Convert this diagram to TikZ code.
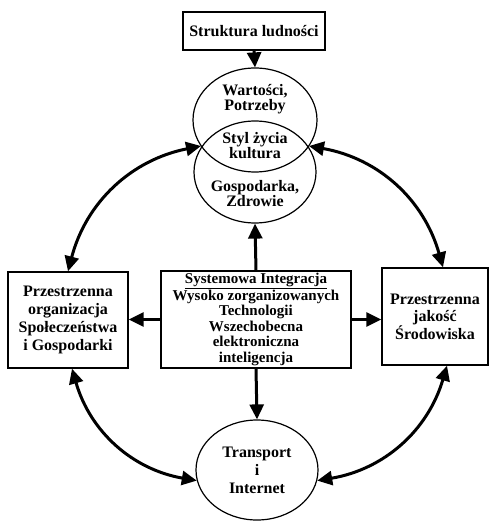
\documentclass[tikz,border=0pt]{standalone}
\usepackage{fontspec}
\setmainfont{Liberation Serif}
\usetikzlibrary{arrows.meta,shapes.geometric}
\begin{document}
\begin{tikzpicture}[x=1pt,y=-1pt,
  box/.style={draw,line width=1.4pt,align=center,font=\bfseries\fontsize{16}{17}\selectfont,inner sep=0pt},
  ell/.style={draw,ellipse,line width=1.2pt,inner sep=0pt},
  lbl/.style={align=center,font=\bfseries\fontsize{16}{15}\selectfont,inner sep=0pt},
  arr/.style={line width=3pt,-{Triangle[length=15pt,width=14pt]}},
  darr/.style={line width=3pt,{Triangle[length=15pt,width=14pt]}-{Triangle[length=15pt,width=14pt]}}]
\useasboundingbox (0,0) rectangle (493,521);
\node[box,minimum width=142pt,minimum height=38pt] (top) at (254,31) {Struktura ludności};
\node[ell,minimum width=124pt,minimum height=104pt] (up) at (255,120) {};
\node[ell,minimum width=122pt,minimum height=102pt] (lo) at (255,172) {};
\node[lbl] (t1) at (255,99) {Wartości,\\Potrzeby};
\node[lbl] (t2) at (255,146) {Styl życia\\kultura};
\node[lbl] (t3) at (255,194) {Gospodarka,\\Zdrowie};
\node[box,minimum width=190pt,minimum height=97pt,font=\bfseries\fontsize{15}{15.5}\selectfont] (cb) at (256,319.5)
  {\underline{Systemowa Integracja}\\Wysoko zorganizowanych\\Technologii\\Wszechobecna\\elektroniczna\\inteligencja};
\node[box,minimum width=120pt,minimum height=96pt,font=\bfseries\fontsize{16}{18}\selectfont] (lb) at (68,320)
  {Przestrzenna\\organizacja\\Społeczeństwa\\i Gospodarki};
\node[box,minimum width=106pt,minimum height=97pt,font=\bfseries\fontsize{16}{17}\selectfont] (rb) at (435,316.5)
  {Przestrzenna\\jakość\\Środowiska};
\node[ell,minimum width=122pt,minimum height=100pt,align=center,font=\bfseries\fontsize{16}{18}\selectfont] (tr) at (257,470)
  {Transport\\i\\Internet};
\coordinate (li) at (201,146);
\coordinate (ri) at (309,146);
\draw[arr] (top.south) -- (up.north);
\draw[arr] (cb.north) -- (lo.south);
\draw[arr] (cb.west) -- (cb.west -| lb.east);
\draw[arr] (cb.east) -- (cb.east -| rb.west);
\draw[arr] (cb.south) -- (tr.north);
\draw[darr] (lb.north) to[bend left=32] (li);
\draw[darr] (ri) to[bend left=32] ([xshift=8pt]rb.north);
\draw[darr] ([xshift=12pt]rb.south) to[bend left=32] (tr.350);
\draw[darr] (tr.190) to[bend left=32] ([xshift=4pt]lb.south);
\end{tikzpicture}
\end{document}
